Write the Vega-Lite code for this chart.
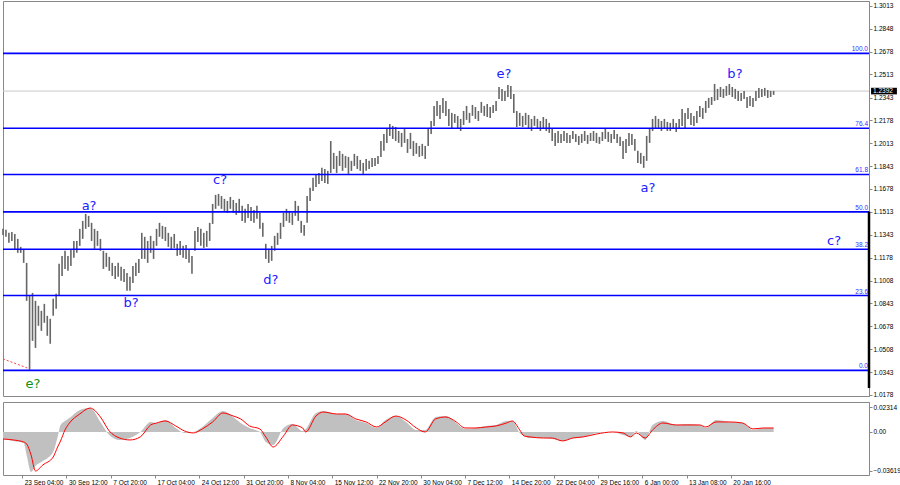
{
"$schema":"https://vega.github.io/schema/vega-lite/v6.json",
"padding":0,
"background":"white",
"spacing":2,
"resolve":{"scale":{"x":"independent","y":"independent"}},
"config":{"view":{"stroke":"#888888","strokeWidth":1},"font":"Liberation Sans","axis":{"labelFont":"Liberation Sans","labelFontSize":6.5,"labelColor":"#000000","tickColor":"#888888","domainColor":"#888888","grid":false,"labelOverlap":false,"labelFlush":false}},
"datasets":{
"bars":[
{"b":0,"h":1.1387,"l":1.1343},{"b":2,"h":1.1380,"l":1.1329},{"b":4,"h":1.1358,"l":1.1285},{"b":6,"h":1.1365,"l":1.1299},{"b":8,"h":1.1350,"l":1.1241},{"b":10,"h":1.1314,"l":1.1212},{"b":12,"h":1.1256,"l":1.1212},{"b":14,"h":1.1241,"l":1.1139},{"b":16,"h":1.1139,"l":1.0862},{"b":18,"h":1.0898,"l":1.0359},
{"b":20,"h":1.0920,"l":1.0570},{"b":22,"h":1.0862,"l":1.0519},{"b":24,"h":1.0826,"l":1.0680},{"b":26,"h":1.0789,"l":1.0643},{"b":28,"h":1.0840,"l":1.0702},{"b":30,"h":1.0753,"l":1.0607},{"b":32,"h":1.0731,"l":1.0549},{"b":34,"h":1.0877,"l":1.0753},{"b":36,"h":1.0913,"l":1.0804},{"b":38,"h":1.1132,"l":1.0898},
{"b":40,"h":1.1190,"l":1.1044},{"b":42,"h":1.1227,"l":1.1095},{"b":44,"h":1.1190,"l":1.1081},{"b":46,"h":1.1241,"l":1.1117},{"b":48,"h":1.1299,"l":1.1176},{"b":50,"h":1.1299,"l":1.1212},{"b":52,"h":1.1387,"l":1.1263},{"b":54,"h":1.1445,"l":1.1314},{"b":56,"h":1.1496,"l":1.1387},{"b":58,"h":1.1482,"l":1.1401},
{"b":60,"h":1.1431,"l":1.1299},{"b":62,"h":1.1387,"l":1.1241},{"b":64,"h":1.1372,"l":1.1263},{"b":66,"h":1.1314,"l":1.1227},{"b":68,"h":1.1227,"l":1.1095},{"b":70,"h":1.1212,"l":1.1110},{"b":72,"h":1.1183,"l":1.1081},{"b":74,"h":1.1139,"l":1.1044},{"b":76,"h":1.1117,"l":1.1022},{"b":78,"h":1.1139,"l":1.1037},
{"b":80,"h":1.1110,"l":1.1008},{"b":82,"h":1.1095,"l":1.1000},{"b":84,"h":1.1066,"l":1.0935},{"b":86,"h":1.1037,"l":1.0935},{"b":88,"h":1.1117,"l":1.0993},{"b":90,"h":1.1139,"l":1.1044},{"b":92,"h":1.1168,"l":1.1066},{"b":94,"h":1.1358,"l":1.1168},{"b":96,"h":1.1329,"l":1.1168},{"b":98,"h":1.1299,"l":1.1139},
{"b":100,"h":1.1336,"l":1.1212},{"b":102,"h":1.1299,"l":1.1168},{"b":104,"h":1.1387,"l":1.1263},{"b":106,"h":1.1431,"l":1.1329},{"b":108,"h":1.1409,"l":1.1314},{"b":110,"h":1.1401,"l":1.1299},{"b":112,"h":1.1358,"l":1.1256},{"b":114,"h":1.1329,"l":1.1241},{"b":116,"h":1.1350,"l":1.1248},{"b":118,"h":1.1278,"l":1.1190},
{"b":120,"h":1.1299,"l":1.1197},{"b":122,"h":1.1263,"l":1.1176},{"b":124,"h":1.1270,"l":1.1168},{"b":126,"h":1.1241,"l":1.1139},{"b":128,"h":1.1190,"l":1.1059},{"b":130,"h":1.1372,"l":1.1227},{"b":132,"h":1.1401,"l":1.1292},{"b":134,"h":1.1387,"l":1.1263},{"b":136,"h":1.1358,"l":1.1248},{"b":138,"h":1.1372,"l":1.1256},
{"b":140,"h":1.1431,"l":1.1299},{"b":142,"h":1.1569,"l":1.1423},{"b":144,"h":1.1635,"l":1.1533},{"b":146,"h":1.1642,"l":1.1555},{"b":148,"h":1.1627,"l":1.1533},{"b":150,"h":1.1606,"l":1.1518},{"b":152,"h":1.1591,"l":1.1504},{"b":154,"h":1.1620,"l":1.1533},{"b":156,"h":1.1598,"l":1.1504},{"b":158,"h":1.1576,"l":1.1489},
{"b":160,"h":1.1606,"l":1.1504},{"b":162,"h":1.1555,"l":1.1445},{"b":164,"h":1.1533,"l":1.1431},{"b":166,"h":1.1569,"l":1.1467},{"b":168,"h":1.1547,"l":1.1445},{"b":170,"h":1.1525,"l":1.1431},{"b":172,"h":1.1555,"l":1.1460},{"b":174,"h":1.1504,"l":1.1387},{"b":176,"h":1.1431,"l":1.1329},{"b":178,"h":1.1278,"l":1.1168},
{"b":180,"h":1.1241,"l":1.1139},{"b":182,"h":1.1263,"l":1.1154},{"b":184,"h":1.1336,"l":1.1227},{"b":186,"h":1.1358,"l":1.1270},{"b":188,"h":1.1431,"l":1.1314},{"b":190,"h":1.1504,"l":1.1401},{"b":192,"h":1.1533,"l":1.1445},{"b":194,"h":1.1518,"l":1.1431},{"b":196,"h":1.1504,"l":1.1416},{"b":198,"h":1.1591,"l":1.1482},
{"b":200,"h":1.1555,"l":1.1445},{"b":202,"h":1.1445,"l":1.1358},{"b":204,"h":1.1416,"l":1.1336},{"b":206,"h":1.1627,"l":1.1431},{"b":208,"h":1.1686,"l":1.1591},{"b":210,"h":1.1759,"l":1.1664},{"b":212,"h":1.1781,"l":1.1693},{"b":214,"h":1.1795,"l":1.1715},{"b":216,"h":1.1832,"l":1.1737},{"b":218,"h":1.1824,"l":1.1722},
{"b":220,"h":1.1810,"l":1.1715},{"b":222,"h":1.2028,"l":1.1795},{"b":224,"h":1.1941,"l":1.1824},{"b":226,"h":1.1919,"l":1.1795},{"b":228,"h":1.1956,"l":1.1846},{"b":230,"h":1.1934,"l":1.1810},{"b":232,"h":1.1919,"l":1.1832},{"b":234,"h":1.1912,"l":1.1788},{"b":236,"h":1.1883,"l":1.1810},{"b":238,"h":1.1934,"l":1.1846},
{"b":240,"h":1.1919,"l":1.1824},{"b":242,"h":1.1890,"l":1.1810},{"b":244,"h":1.1868,"l":1.1788},{"b":246,"h":1.1897,"l":1.1810},{"b":248,"h":1.1883,"l":1.1824},{"b":250,"h":1.1904,"l":1.1839},{"b":252,"h":1.1904,"l":1.1846},{"b":254,"h":1.1919,"l":1.1861},{"b":256,"h":1.2028,"l":1.1912},{"b":258,"h":1.2079,"l":1.1956},
{"b":260,"h":1.2116,"l":1.2014},{"b":262,"h":1.2152,"l":1.2065},{"b":264,"h":1.2138,"l":1.2043},{"b":266,"h":1.2130,"l":1.2028},{"b":268,"h":1.2101,"l":1.2014},{"b":270,"h":1.2087,"l":1.1985},{"b":272,"h":1.2116,"l":1.2014},{"b":274,"h":1.2043,"l":1.1941},{"b":276,"h":1.2087,"l":1.1970},{"b":278,"h":1.2028,"l":1.1919},
{"b":280,"h":1.2014,"l":1.1934},{"b":282,"h":1.1992,"l":1.1912},{"b":284,"h":1.2007,"l":1.1919},{"b":286,"h":1.1992,"l":1.1897},{"b":288,"h":1.2116,"l":1.1992},{"b":290,"h":1.2174,"l":1.2079},{"b":292,"h":1.2284,"l":1.2138},{"b":294,"h":1.2320,"l":1.2211},{"b":296,"h":1.2291,"l":1.2189},{"b":298,"h":1.2342,"l":1.2233},
{"b":300,"h":1.2320,"l":1.2211},{"b":302,"h":1.2262,"l":1.2138},{"b":304,"h":1.2233,"l":1.2123},{"b":306,"h":1.2225,"l":1.2160},{"b":308,"h":1.2211,"l":1.2116},{"b":310,"h":1.2189,"l":1.2101},{"b":312,"h":1.2247,"l":1.2145},{"b":314,"h":1.2284,"l":1.2182},{"b":316,"h":1.2233,"l":1.2160},{"b":318,"h":1.2291,"l":1.2211},
{"b":320,"h":1.2276,"l":1.2189},{"b":322,"h":1.2247,"l":1.2174},{"b":324,"h":1.2313,"l":1.2233},{"b":326,"h":1.2284,"l":1.2211},{"b":328,"h":1.2298,"l":1.2203},{"b":330,"h":1.2276,"l":1.2196},{"b":332,"h":1.2291,"l":1.2233},{"b":334,"h":1.2320,"l":1.2247},{"b":336,"h":1.2422,"l":1.2335},{"b":338,"h":1.2408,"l":1.2320},
{"b":340,"h":1.2393,"l":1.2320},{"b":342,"h":1.2437,"l":1.2349},{"b":344,"h":1.2429,"l":1.2335},{"b":346,"h":1.2371,"l":1.2233},{"b":348,"h":1.2247,"l":1.2130},{"b":350,"h":1.2233,"l":1.2138},{"b":352,"h":1.2211,"l":1.2130},{"b":354,"h":1.2233,"l":1.2145},{"b":356,"h":1.2218,"l":1.2116},{"b":358,"h":1.2189,"l":1.2101},
{"b":360,"h":1.2211,"l":1.2138},{"b":362,"h":1.2189,"l":1.2116},{"b":364,"h":1.2174,"l":1.2101},{"b":366,"h":1.2203,"l":1.2123},{"b":368,"h":1.2189,"l":1.2101},{"b":370,"h":1.2160,"l":1.2087},{"b":372,"h":1.2123,"l":1.2028},{"b":374,"h":1.2087,"l":1.1992},{"b":376,"h":1.2101,"l":1.2014},{"b":378,"h":1.2079,"l":1.2014},
{"b":380,"h":1.2101,"l":1.2028},{"b":382,"h":1.2087,"l":1.2014},{"b":384,"h":1.2072,"l":1.2014},{"b":386,"h":1.2101,"l":1.2043},{"b":388,"h":1.2079,"l":1.2021},{"b":390,"h":1.2065,"l":1.1999},{"b":392,"h":1.2079,"l":1.2014},{"b":394,"h":1.2101,"l":1.2028},{"b":396,"h":1.2072,"l":1.2007},{"b":398,"h":1.2087,"l":1.2028},
{"b":400,"h":1.2101,"l":1.2028},{"b":402,"h":1.2087,"l":1.2014},{"b":404,"h":1.2058,"l":1.2007},{"b":406,"h":1.2094,"l":1.2028},{"b":408,"h":1.2116,"l":1.2043},{"b":410,"h":1.2094,"l":1.2021},{"b":412,"h":1.2079,"l":1.2014},{"b":414,"h":1.2109,"l":1.2043},{"b":416,"h":1.2079,"l":1.2014},{"b":418,"h":1.2058,"l":1.1992},
{"b":420,"h":1.2028,"l":1.1897},{"b":422,"h":1.2043,"l":1.1941},{"b":424,"h":1.2087,"l":1.1992},{"b":426,"h":1.2079,"l":1.1999},{"b":428,"h":1.2043,"l":1.1956},{"b":430,"h":1.1956,"l":1.1868},{"b":432,"h":1.1941,"l":1.1861},{"b":434,"h":1.1919,"l":1.1832},{"b":436,"h":1.2065,"l":1.1883},{"b":438,"h":1.2123,"l":1.2014},
{"b":440,"h":1.2189,"l":1.2101},{"b":442,"h":1.2211,"l":1.2123},{"b":444,"h":1.2189,"l":1.2116},{"b":446,"h":1.2174,"l":1.2101},{"b":448,"h":1.2189,"l":1.2116},{"b":450,"h":1.2167,"l":1.2101},{"b":452,"h":1.2160,"l":1.2101},{"b":454,"h":1.2189,"l":1.2123},{"b":456,"h":1.2160,"l":1.2094},{"b":458,"h":1.2189,"l":1.2116},
{"b":460,"h":1.2262,"l":1.2138},{"b":462,"h":1.2233,"l":1.2123},{"b":464,"h":1.2269,"l":1.2189},{"b":466,"h":1.2233,"l":1.2145},{"b":468,"h":1.2211,"l":1.2138},{"b":470,"h":1.2247,"l":1.2160},{"b":472,"h":1.2284,"l":1.2203},{"b":474,"h":1.2269,"l":1.2189},{"b":476,"h":1.2320,"l":1.2233},{"b":478,"h":1.2342,"l":1.2269},
{"b":480,"h":1.2349,"l":1.2291},{"b":482,"h":1.2444,"l":1.2320},{"b":484,"h":1.2408,"l":1.2327},{"b":486,"h":1.2422,"l":1.2349},{"b":488,"h":1.2408,"l":1.2342},{"b":490,"h":1.2429,"l":1.2357},{"b":492,"h":1.2444,"l":1.2364},{"b":494,"h":1.2422,"l":1.2349},{"b":496,"h":1.2408,"l":1.2335},{"b":498,"h":1.2393,"l":1.2320},
{"b":500,"h":1.2378,"l":1.2320},{"b":502,"h":1.2393,"l":1.2335},{"b":504,"h":1.2349,"l":1.2269},{"b":506,"h":1.2357,"l":1.2284},{"b":508,"h":1.2342,"l":1.2276},{"b":510,"h":1.2393,"l":1.2320},{"b":512,"h":1.2415,"l":1.2342},{"b":514,"h":1.2408,"l":1.2349},{"b":516,"h":1.2415,"l":1.2357},{"b":518,"h":1.2400,"l":1.2342},
{"b":520,"h":1.2393,"l":1.2349},{"b":522,"h":1.2393,"l":1.2364}
],
"fib":[{"lvl":"100.0","p":1.2667},{"lvl":"76.4","p":1.2121},{"lvl":"61.8","p":1.1784},{"lvl":"50.0","p":1.1511},{"lvl":"38.2","p":1.1238},{"lvl":"23.6","p":1.0901},{"lvl":"0.0","p":1.0355}],
"trend":[{"b":0,"p":1.0439},{"b":18,"p":1.0366}],
"waves":[
{"n":0,"b":20.3,"p":1.0255,"t":"e?"},{"n":1,"b":58.3,"p":1.1554,"t":"a?"},{"n":2,"b":86.7,"p":1.0846,"t":"b?"},{"n":3,"b":147,"p":1.1743,"t":"c?"},{"n":4,"b":181.5,"p":1.1014,"t":"d?"},{"n":5,"b":339.4,"p":1.2517,"t":"e?"},{"n":6,"b":436.9,"p":1.1685,"t":"a?"},{"n":7,"b":495.8,"p":1.2517,"t":"b?"},{"n":8,"b":562.9,"p":1.1298,"t":"c?"}
],
"macd":[
{"b":0,"g":-0.0065,"s":-0.0065},{"b":7,"g":-0.0083,"s":-0.0074},{"b":14,"g":-0.0102,"s":-0.0093},{"b":16,"g":-0.0213,"s":-0.0111},{"b":19,"g":-0.0371,"s":-0.0213},{"b":22,"g":-0.0315,"s":-0.0362},{"b":27,"g":-0.0269,"s":-0.0306},{"b":34,"g":-0.0185,"s":-0.0232},{"b":37,"g":-0.0046,"s":-0.0139},{"b":39,"g":0.0065,"s":-0.0083},
{"b":42,"g":0.0102,"s":0.0019},{"b":45,"g":0.0130,"s":0.0083},{"b":52,"g":0.0204,"s":0.0167},{"b":59,"g":0.0222,"s":0.0222},{"b":66,"g":0.0093,"s":0.0139},{"b":72,"g":-0.0028,"s":0.0009},{"b":79,"g":-0.0074,"s":-0.0056},{"b":86,"g":-0.0056,"s":-0.0074},{"b":93,"g":0.0,"s":-0.0046},{"b":100,"g":0.0093,"s":0.0065},
{"b":104,"g":0.0083,"s":0.0083},{"b":110,"g":0.0111,"s":0.0102},{"b":117,"g":0.0037,"s":0.0056},{"b":123,"g":-0.0009,"s":0.0009},{"b":129,"g":0.0,"s":-0.0009},{"b":135,"g":0.0046,"s":0.0028},{"b":142,"g":0.0130,"s":0.0093},{"b":149,"g":0.0195,"s":0.0176},{"b":156,"g":0.0139,"s":0.0148},{"b":161,"g":0.0083,"s":0.0121},
{"b":167,"g":0.0037,"s":0.0056},{"b":174,"g":0.0,"s":0.0028},{"b":178,"g":-0.0093,"s":-0.0046},{"b":183,"g":-0.0121,"s":-0.0139},{"b":190,"g":0.0037,"s":-0.0037},{"b":196,"g":0.0074,"s":0.0065},{"b":203,"g":0.0009,"s":0.0037},{"b":205,"g":0.0028,"s":0.0},{"b":212,"g":0.0176,"s":0.0148},{"b":217,"g":0.0195,"s":0.0185},
{"b":226,"g":0.0167,"s":0.0167},{"b":232,"g":0.0167,"s":0.0167},{"b":239,"g":0.0111,"s":0.0121},{"b":246,"g":0.0083,"s":0.0093},{"b":253,"g":0.0037,"s":0.0046},{"b":259,"g":0.0111,"s":0.0093},{"b":266,"g":0.0148,"s":0.0148},{"b":273,"g":0.0093,"s":0.0111},{"b":280,"g":0.0019,"s":0.0037},{"b":286,"g":0.0019,"s":0.0},
{"b":293,"g":0.0139,"s":0.0121},{"b":300,"g":0.0148,"s":0.0139},{"b":307,"g":0.0083,"s":0.0093},{"b":313,"g":0.0028,"s":0.0037},{"b":320,"g":0.0037,"s":0.0037},{"b":327,"g":0.0056,"s":0.0046},{"b":334,"g":0.0065,"s":0.0056},{"b":341,"g":0.0102,"s":0.0083},{"b":345,"g":0.0102,"s":0.0102},{"b":350,"g":-0.0009,"s":0.0019},
{"b":353,"g":-0.0037,"s":-0.0037},{"b":357,"g":-0.0056,"s":-0.0046},{"b":366,"g":-0.0056,"s":-0.0056},{"b":372,"g":-0.0065,"s":-0.0056},{"b":379,"g":-0.0083,"s":-0.0083},{"b":386,"g":-0.0056,"s":-0.0056},{"b":393,"g":-0.0046,"s":-0.0046},{"b":402,"g":-0.0009,"s":-0.0019},{"b":413,"g":0.0,"s":0.0},{"b":420,"g":-0.0028,"s":-0.0009},
{"b":425,"g":-0.0046,"s":-0.0046},{"b":429,"g":0.0009,"s":-0.0009},{"b":435,"g":-0.0074,"s":-0.0056},{"b":440,"g":0.0065,"s":0.0019},{"b":447,"g":0.0102,"s":0.0083},{"b":456,"g":0.0065,"s":0.0065},{"b":463,"g":0.0074,"s":0.0065},{"b":472,"g":0.0065,"s":0.0065},{"b":476,"g":0.0037,"s":0.0046},{"b":483,"g":0.0111,"s":0.0093},
{"b":492,"g":0.0093,"s":0.0093},{"b":501,"g":0.0083,"s":0.0083},{"b":508,"g":0.0019,"s":0.0028},{"b":515,"g":0.0037,"s":0.0037},{"b":522,"g":0.0037,"s":0.0037}
]
},
"vconcat":[
{
"width":866,"height":395,
"layer":[
{"data":{"values":[{}]},"mark":{"type":"rule","color":"#c8c8c8","strokeWidth":1},"encoding":{"y":{"datum":1.2392,"type":"quantitative","scale":{"domain":[1.0168,1.3049],"nice":false,"zero":false}}}},
{"data":{"name":"bars"},"mark":{"type":"rule","color":"#666666","strokeWidth":1.6},"encoding":{
"x":{"field":"b","type":"quantitative","scale":{"domain":[0,586.6],"nice":false,"zero":false},"axis":null},
"y":{"field":"h","type":"quantitative","scale":{"domain":[1.0168,1.3049],"nice":false,"zero":false},"axis":{"orient":"right","title":null,"values":[1.3013,1.2848,1.2678,1.2513,1.2343,1.2178,1.2013,1.1843,1.1678,1.1513,1.1343,1.1178,1.1008,1.0843,1.0678,1.0508,1.0343,1.0178],"tickCount":40,"format":".4f","tickSize":3,"labelPadding":1,"labelOverlap":false,"labelBound":false}},
"y2":{"field":"l"}}},
{"data":{"name":"fib"},"mark":{"type":"rule","color":"#0000ff","strokeWidth":1.6},"encoding":{"y":{"field":"p","type":"quantitative","scale":{"domain":[1.0168,1.3049],"nice":false,"zero":false}}}},
{"data":{"name":"fib"},"mark":{"type":"text","color":"#3030ff","fontSize":6.5,"align":"right","baseline":"alphabetic","dx":-1,"dy":-2},"encoding":{"x":{"datum":586.6,"type":"quantitative","scale":{"domain":[0,586.6],"nice":false,"zero":false}},"y":{"field":"p","type":"quantitative","scale":{"domain":[1.0168,1.3049],"nice":false,"zero":false}},"text":{"field":"lvl"}}},
{"data":{"name":"trend"},"mark":{"type":"line","color":"#ff4040","strokeWidth":1,"strokeDash":[2,2]},"encoding":{"x":{"field":"b","type":"quantitative","scale":{"domain":[0,586.6],"nice":false,"zero":false}},"y":{"field":"p","type":"quantitative","scale":{"domain":[1.0168,1.3049],"nice":false,"zero":false}}}},
{"data":{"name":"waves"},"mark":{"type":"text","font":"DejaVu Sans","fontSize":13,"align":"center","baseline":"middle"},"encoding":{"x":{"field":"b","type":"quantitative","scale":{"domain":[0,586.6],"nice":false,"zero":false}},"y":{"field":"p","type":"quantitative","scale":{"domain":[1.0168,1.3049],"nice":false,"zero":false}},"text":{"field":"t"},"color":{"condition":{"test":"datum.n == 0","value":"#119111"},"value":"#2020ff"}}},
{"data":{"values":[{}]},"mark":{"type":"rule","color":"#000000","strokeWidth":2.5},"encoding":{"x":{"datum":586.6,"type":"quantitative","scale":{"domain":[0,586.6],"nice":false,"zero":false}},"y":{"datum":1.1513,"type":"quantitative","scale":{"domain":[1.0168,1.3049],"nice":false,"zero":false}},"y2":{"datum":1.0226}}},
{"data":{"values":[{}]},"mark":{"type":"rect","color":"#000000"},"encoding":{"x":{"datum":588,"type":"quantitative","scale":{"domain":[0,586.6],"nice":false,"zero":false}},"x2":{"datum":605.5},"y":{"datum":1.2416,"type":"quantitative","scale":{"domain":[1.0168,1.3049],"nice":false,"zero":false}},"y2":{"datum":1.2368}}},
{"data":{"values":[{}]},"mark":{"type":"text","color":"#ffffff","fontSize":6.5,"align":"left","baseline":"middle","text":"1.2392"},"encoding":{"x":{"datum":589.3,"type":"quantitative","scale":{"domain":[0,586.6],"nice":false,"zero":false}},"y":{"datum":1.2392,"type":"quantitative","scale":{"domain":[1.0168,1.3049],"nice":false,"zero":false}}}}
]
},
{
"width":866,"height":73,
"layer":[
{"data":{"name":"macd"},"mark":{"type":"area","color":"#c0c0c0","interpolate":"monotone"},"encoding":{
"x":{"field":"b","type":"quantitative","scale":{"domain":[0,586.6],"nice":false,"zero":false},"axis":{"title":null,"values":[13,43,73,103,133,163,193,223,253,283,313,343,373,403,433,463,493],"tickCount":40,"labelExpr":"['23 Sep 04:00','30 Sep 12:00','7 Oct 20:00','17 Oct 04:00','24 Oct 12:00','31 Oct 20:00','8 Nov 04:00','15 Nov 12:00','22 Nov 20:00','30 Nov 04:00','7 Dec 12:00','14 Dec 20:00','22 Dec 04:00','29 Dec 16:00','6 Jan 00:00','13 Jan 08:00','20 Jan 16:00'][round((datum.value-13)/30)]","labelAlign":"left","labelBaseline":"top","labelOffset":2,"labelPadding":1,"tickSize":3,"domain":false,"labelOverlap":false}},
"y":{"field":"g","type":"quantitative","scale":{"domain":[-0.0399,0.0278],"nice":false,"zero":false},"axis":{"orient":"right","title":null,"values":[0.02314,0,-0.03619],"tickCount":10,"labelExpr":"datum.value == 0 ? '0.00' : format(datum.value, '.5f')","tickSize":3,"labelPadding":1,"labelOverlap":false,"labelBound":false}},
"y2":{"datum":0}}},
{"data":{"name":"macd"},"mark":{"type":"line","color":"#ff0000","strokeWidth":1,"interpolate":"monotone"},"encoding":{"x":{"field":"b","type":"quantitative","scale":{"domain":[0,586.6],"nice":false,"zero":false}},"y":{"field":"s","type":"quantitative","scale":{"domain":[-0.0399,0.0278],"nice":false,"zero":false}}}}
]
}
]
}
